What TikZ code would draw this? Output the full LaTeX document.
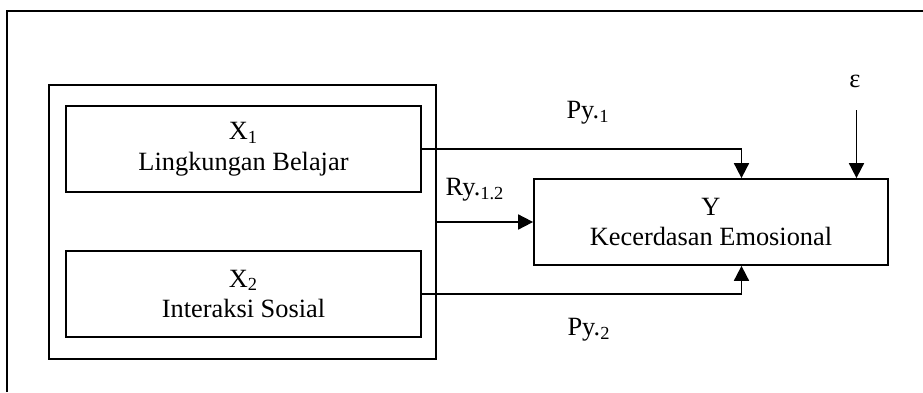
\documentclass[tikz,border=0pt]{standalone}
\usepackage{fontspec}
\setmainfont{Liberation Serif}
\usetikzlibrary{arrows.meta}

\begin{document}
\begin{tikzpicture}[
    font=\fontsize{15}{17.5}\selectfont,
    box/.style={draw=black,line width=1pt,align=center,minimum width=7.1cm,minimum height=1.72cm},
    group/.style={draw=black,line width=1pt,minimum width=7.74cm,minimum height=5.48cm},
    arrow/.style={-{Triangle[length=8.5pt,width=8.5pt]}, line width=1pt}
]
\useasboundingbox (0,0) rectangle (18.46,7.84);
\draw[line width=1pt] (0.14,0) |- (18.46,7.62);

\node[group] (grp) at (4.85,3.4) {};
\node[box] (X1) at (4.87,4.86) {X\textsubscript{1}\\Lingkungan Belajar};
\node[box] (X2) at (4.87,1.96) {X\textsubscript{2}\\Interaksi Sosial};
\node[box,minimum width=7.08cm] (Y) at (14.22,3.4) {Y\\Kecerdasan Emosional};

\node (eps) at (17.1,6.22) {ε};
\coordinate (epsend) at (17.13,5.64);

\draw[line width=1pt] (X1.east) -- (X1.east -| grp.east);
\draw[arrow] (X1.east) -| ([xshift=0.61cm]Y.north);
\draw[arrow] (grp.east) -- (Y.west);
\draw[arrow] (X2.east) -| ([xshift=0.61cm]Y.south);
\draw[arrow] (epsend) -- (epsend |- Y.north);

\node (py1) at (11.76,5.58) {Py.\textsubscript{1}};
\node (ry) at (9.5,4.04) {Ry.\textsubscript{1.2}};
\node (py2) at (11.78,1.24) {Py.\textsubscript{2}};

\end{tikzpicture}
\end{document}
